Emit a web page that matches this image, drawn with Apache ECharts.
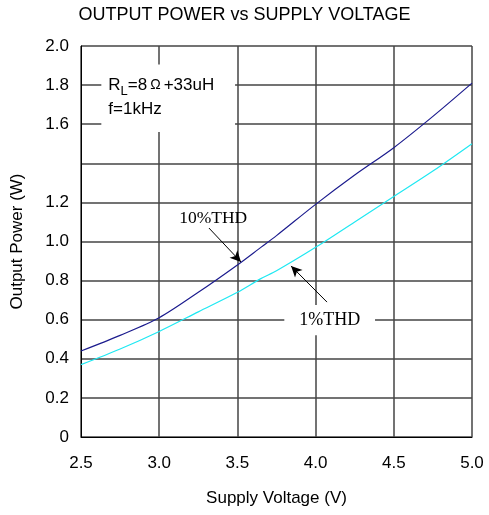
<!DOCTYPE html>
<html>
<head>
<meta charset="utf-8">
<script src="https://cdn.jsdelivr.net/npm/echarts@6/dist/echarts.min.js"></script>
<style>
  html, body { margin: 0; padding: 0; background: #fff; }
  #main { width: 489px; height: 515px; }
</style>
</head>
<body>
<div id="main"></div>
<script>
var voltage = [2.5, 2.75, 3.0, 3.25, 3.5, 3.65, 3.75, 4.0, 4.25, 4.5, 4.75, 5.0];
var thd10 = [0.44, 0.52, 0.61, 0.74, 0.88, 0.97, 1.03, 1.19, 1.34, 1.48, 1.64, 1.81];
var thd1 = [0.37, 0.45, 0.54, 0.64, 0.74, 0.81, 0.85, 0.97, 1.10, 1.23, 1.36, 1.50];
var hiddenTicks = [1.4];

function pairs(xs, ys) {
  return xs.map(function (x, i) { return [x, ys[i]]; });
}

var chartDom = document.getElementById("main");
var myChart = echarts.init(chartDom, null, { renderer: "canvas" });
var option;

var sans = "Liberation Sans";
var serif = "Liberation Serif";

option = {
  backgroundColor: "#fff",
  animation: false,
  title: {
    text: "OUTPUT POWER vs SUPPLY VOLTAGE",
    left: "center",
    top: 1,
    textStyle: { fontFamily: sans, fontSize: 18, fontWeight: "normal", color: "#000" }
  },
  grid: { left: 81, right: 17, top: 46, bottom: 78, outerBoundsMode: "none", containLabel: false },
  xAxis: {
    type: "value",
    min: 2.5,
    max: 5.0,
    interval: 0.5,
    name: "Supply Voltage (V)",
    nameLocation: "middle",
    nameGap: 53,
    nameTextStyle: { fontFamily: sans, fontSize: 17, color: "#000" },
    axisLine: { lineStyle: { color: "#000", width: 1 } },
    axisTick: { show: false },
    axisLabel: {
      margin: 18,
      fontFamily: sans, fontSize: 17, color: "#000",
      formatter: function (v) { return v.toFixed(1); }
    },
    splitLine: { lineStyle: { color: "#444", width: 1.5 } }
  },
  yAxis: {
    type: "value",
    min: 0,
    max: 2.0,
    interval: 0.2,
    name: "Output Power (W)",
    nameLocation: "middle",
    nameGap: 55,
    nameTextStyle: { fontFamily: sans, fontSize: 17, color: "#000" },
    axisLine: { show: true, lineStyle: { color: "#000", width: 1 } },
    axisTick: { show: false },
    axisLabel: {
      margin: 12,
      fontFamily: sans, fontSize: 17, color: "#000",
      formatter: function (v) {
        for (var i = 0; i < hiddenTicks.length; i++) {
          if (Math.abs(v - hiddenTicks[i]) < 1e-6) return "";
        }
        return v === 0 ? "0" : v.toFixed(1);
      }
    },
    splitLine: { lineStyle: { color: "#444", width: 1.5 } }
  },
  series: [
    {
      name: "10%THD",
      type: "line",
      smooth: 0.3,
      symbol: "none",
      lineStyle: { color: "#1c1c8e", width: 1.2 },
      data: pairs(voltage, thd10),
      markArea: {
        silent: true,
        itemStyle: { color: "#fff" },
        label: {
          show: true,
          position: "insideTopLeft",
          distance: 0,
          padding: [9, 0, 0, 7],
          lineHeight: 24,
          formatter: "{a|R}{b|L}{a|=8}{c|Ω}{a|+33uH}\n{a|f=1kHz}",
          rich: {
            a: { fontFamily: sans, fontSize: 17, color: "#000", lineHeight: 24 },
            b: { fontFamily: sans, fontSize: 13, color: "#000", verticalAlign: "bottom", lineHeight: 22 },
            c: { fontFamily: sans, fontSize: 14, color: "#000", padding: [0, 3, 0, 3], lineHeight: 24 }
          }
        },
        data: [[{ coord: [2.63, 1.905] }, { coord: [3.485, 1.56] }]]
      },
      markLine: {
        silent: true,
        symbol: ["none", "arrow"],
        symbolSize: [8, 11],
        lineStyle: { color: "#000", width: 1, type: "solid" },
        label: { show: false },
        data: [[{ coord: [3.318, 1.069] }, { coord: [3.523, 0.895] }]]
      },
      markPoint: {
        silent: true,
        symbolSize: 0,
        label: {
          show: true,
          fontFamily: serif, fontSize: 17.5, color: "#000",
          formatter: "{b}"
        },
        data: [{ name: "10%THD", coord: [3.345, 1.12] }]
      }
    },
    {
      name: "1%THD",
      type: "line",
      smooth: 0.3,
      symbol: "none",
      lineStyle: { color: "#1fe8f2", width: 1.2 },
      data: pairs(voltage, thd1),
      markArea: {
        silent: true,
        itemStyle: { color: "#fff" },
        label: {
          show: true,
          position: "inside",
          fontFamily: serif, fontSize: 18, color: "#000",
          formatter: "1%THD"
        },
        data: [[{ coord: [3.80, 0.675] }, { coord: [4.38, 0.52] }]]
      },
      markLine: {
        silent: true,
        symbol: ["none", "arrow"],
        symbolSize: [8, 11],
        lineStyle: { color: "#000", width: 1, type: "solid" },
        label: { show: false },
        data: [[{ coord: [4.073, 0.69] }, { coord: [3.843, 0.875] }]]
      }
    }
  ]
};

option && myChart.setOption(option);
</script>
</body>
</html>
